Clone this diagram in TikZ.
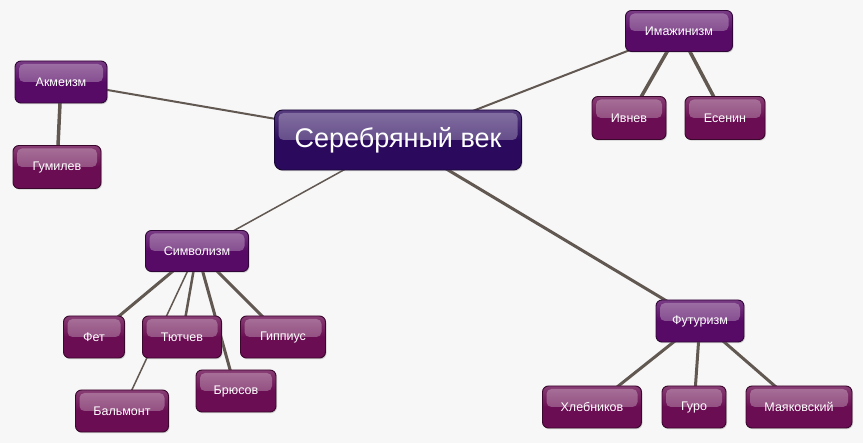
\documentclass[tikz,border=0pt]{standalone}
\usepackage{fontspec}
\setmainfont{Liberation Sans}
\usetikzlibrary{shadows,backgrounds}
\definecolor{catc}{HTML}{580B66}
\definecolor{subc}{HTML}{6A0D52}
\definecolor{mainc}{HTML}{2B0A5E}
\definecolor{edgec}{HTML}{615852}
\definecolor{bgc}{HTML}{F8F7F7}
\tikzset{
  box/.style={rounded corners=6pt, draw=#1!55!black, line width=0.9pt,
    top color=#1!80!white, bottom color=#1, middle color=#1,
    text=white, font=\fontsize{12.5}{14}\selectfont, inner sep=0pt,
    drop shadow={opacity=0.35,shadow xshift=1pt,shadow yshift=-1.2pt},
    path picture={\fill[white,opacity=0.28,rounded corners=5pt]
      ([shift={(4pt,-3pt)}]path picture bounding box.north west) rectangle
      ([shift={(-4pt,0pt)}]path picture bounding box.east);}},
  cat/.style={box=catc},
  sub/.style={box=subc},
  link/.style={draw=edgec, line width=#1},
  link/.default=2pt
}
\begin{document}
\begin{tikzpicture}[x=1pt,y=-1pt]
\useasboundingbox (0,0) rectangle (863,443);
% central
\node[box=mainc, minimum width=247pt, minimum height=60pt, rounded corners=8pt,
      font=\fontsize{27}{32}\selectfont] (main) at (398,140) {Серебряный век};
% acmeism
\node[cat, minimum width=92pt, minimum height=42pt] (akm) at (61,82) {Акмеизм};
\node[sub, minimum width=88pt, minimum height=43pt] (gum) at (57,167) {Гумилев};
% imaginism
\node[cat, minimum width=107pt, minimum height=41pt] (imj) at (679,31) {Имажинизм};
\node[sub, minimum width=74pt, minimum height=43pt] (ivn) at (629,118) {Ивнев};
\node[sub, minimum width=80pt, minimum height=43pt] (esn) at (725,118) {Есенин};
% symbolism
\node[cat, minimum width=103pt, minimum height=41pt] (sim) at (197,251) {Символизм};
\node[sub, minimum width=61pt, minimum height=42pt] (fet) at (94,337) {Фет};
\node[sub, minimum width=79pt, minimum height=42pt] (tut) at (182,337) {Тютчев};
\node[sub, minimum width=85pt, minimum height=42pt] (gip) at (283,337) {Гиппиус};
\node[sub, minimum width=80pt, minimum height=42pt] (bru) at (236,391) {Брюсов};
\node[sub, minimum width=93pt, minimum height=42pt] (bal) at (122,411) {Бальмонт};
% futurism
\node[cat, minimum width=88pt, minimum height=42pt] (fut) at (700,321) {Футуризм};
\node[sub, minimum width=99pt, minimum height=42pt] (hle) at (592,407) {Хлебников};
\node[sub, minimum width=64pt, minimum height=42pt] (gur) at (694,407) {Гуро};
\node[sub, minimum width=106pt, minimum height=42pt] (may) at (799,407) {Маяковский};
\begin{scope}[on background layer]
\fill[bgc] (0,0) rectangle (863,443);
\draw[link=2pt] (main.center) -- (akm.center);
\draw[link=3.5pt] (akm.center) -- (gum.center);
\draw[link=2pt] (main.center) -- (imj.center);
\draw[link=3.5pt] (imj.center) -- (ivn.center);
\draw[link=3.5pt] (imj.center) -- (esn.center);
\draw[link=1.5pt] (main.center) -- (sim.center);
\draw[link=3pt] (main.center) -- (fut.center);
\draw[link=3pt] (sim.center) -- (fet.center);
\draw[link=2.5pt] (sim.center) -- (tut.center);
\draw[link=1.5pt] (sim.center) -- (bal.center);
\draw[link=3pt] (sim.center) -- (bru.center);
\draw[link=3pt] (sim.center) -- (gip.center);
\draw[link=3pt] (fut.center) -- (hle.center);
\draw[link=3pt] (fut.center) -- (gur.center);
\draw[link=3pt] (fut.center) -- (may.center);
\end{scope}
\end{tikzpicture}
\end{document}
